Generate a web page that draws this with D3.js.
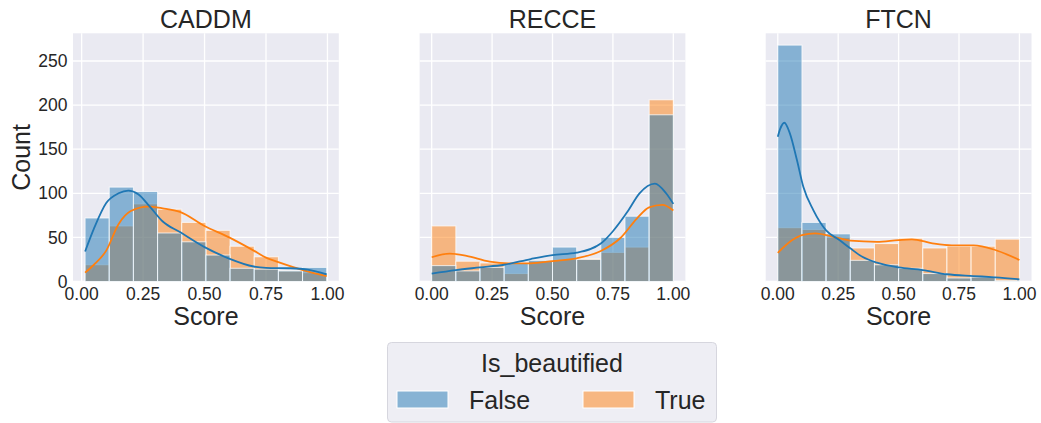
<!DOCTYPE html>
<html>
<head>
<meta charset="UTF-8">
<title>Score histograms</title>
<script src="https://d3js.org/d3.v7.min.js"></script>
<style>
    * { margin: 0; padding: 0; }
    body { background: #fff; }
    svg text { font-family: "Liberation Sans", Arial, sans-serif; fill: #262626; }
</style>
</head>
<body>
<svg id="main" width="1041" height="423"></svg>
<script>
// data
const panels = ["CADDM", "RECCE", "FTCN"];
const binRanges = [[0.014, 0.997], [0, 1], [0, 1]];
const falseCounts = [
    [72, 107, 102, 55, 45, 30, 15, 14, 12, 16],
    [18, 12, 16, 21, 24, 39, 25, 50, 74, 189],
    [268, 67, 54, 24, 19, 15, 9, 4, 5, 1]
];
const trueCounts = [
    [19, 63, 88, 82, 67, 58, 40, 28, 12, 10],
    [63, 23, 21, 9, 23, 25, 26, 33, 39, 206],
    [61, 59, 50, 38, 43, 49, 38, 40, 40, 48]
];
// kde curves, [score, count]
const falseKde = [
    [[0.014, 34], [0.05, 60], [0.1, 89], [0.15, 100], [0.19, 103], [0.23, 99], [0.28, 84], [0.33, 68], [0.4, 56], [0.5, 39], [0.6, 26], [0.7, 17], [0.75, 15.5], [0.85, 15], [0.92, 13.5], [0.997, 8]],
    [[0, 9], [0.1, 13], [0.2, 16], [0.3, 19], [0.41, 25.5], [0.5, 30], [0.6, 32.7], [0.7, 43], [0.75, 57], [0.81, 79], [0.86, 100], [0.924, 111], [0.97, 100], [1, 88]],
    [[0, 164], [0.01, 173], [0.027, 180], [0.05, 168], [0.079, 138], [0.106, 107], [0.147, 81], [0.2, 58], [0.255, 47], [0.3, 37.6], [0.35, 28], [0.41, 21.3], [0.5, 16], [0.6, 13], [0.7, 8.2], [0.81, 6.2], [0.9, 4.7], [1, 2.5]]
];
const trueKde = [
    [[0.014, 10], [0.05, 19], [0.1, 35], [0.15, 65], [0.2, 80], [0.27, 85], [0.33, 83], [0.4, 79], [0.5, 63], [0.6, 50], [0.7, 35], [0.75, 27], [0.8, 22], [0.9, 13], [0.997, 6]],
    [[0, 27.5], [0.075, 31.5], [0.144, 29], [0.24, 22.5], [0.32, 20.6], [0.41, 20.6], [0.5, 23.2], [0.6, 26.3], [0.7, 34.6], [0.78, 49], [0.85, 71.6], [0.9, 84], [0.955, 86.8], [1, 80.5]],
    [[0, 32.5], [0.06, 47], [0.1, 52.7], [0.155, 54.6], [0.24, 50], [0.3, 46.3], [0.41, 45], [0.5, 47], [0.555, 47.8], [0.64, 43.3], [0.72, 41], [0.81, 41], [0.9, 35.7], [1, 24.4]]
];
const xTicks = [0, 0.25, 0.5, 0.75, 1];
const yTicks = [0, 50, 100, 150, 200, 250];
const hueLabels = ["False", "True"];

const blue = "#1f77b4", orange = "#ff7f0e", bg = "#eaeaf2";

const svg = d3.select("#main");
const panelLeft = [73, 419.6, 765.7];
const panelW = 265.8;
const plotTop = 33.3, plotBottom = 281.5;

const yMax = d3.max([...falseCounts.flat(), ...trueCounts.flat()]) * 1.05;
const y = d3.scaleLinear().domain([0, yMax]).range([plotBottom, plotTop]);

panels.forEach((name, i) => {
    const [lo, hi] = binRanges[i];
    const pad = (hi - lo) * 0.05;
    const x = d3.scaleLinear().domain([lo - pad, hi + pad]).range([panelLeft[i], panelLeft[i] + panelW]);
    const g = svg.append("g");

    g.append("rect")
        .attr("x", panelLeft[i]).attr("y", plotTop)
        .attr("width", panelW).attr("height", plotBottom - plotTop)
        .attr("fill", bg);

    // grid
    g.selectAll(".vgrid").data(xTicks).enter().append("line")
        .attr("x1", d => x(d)).attr("x2", d => x(d))
        .attr("y1", plotTop).attr("y2", plotBottom)
        .attr("stroke", "#fff").attr("stroke-width", 1.3);
    g.selectAll(".hgrid").data(yTicks).enter().append("line")
        .attr("x1", panelLeft[i]).attr("x2", panelLeft[i] + panelW)
        .attr("y1", d => y(d)).attr("y2", d => y(d))
        .attr("stroke", "#fff").attr("stroke-width", 1.3);

    const edges = d3.range(11).map(k => lo + (hi - lo) * k / 10);

    // seaborn draws the second hue level first
    [[trueCounts[i], orange], [falseCounts[i], blue]].forEach(([counts, col]) => {
        g.selectAll(null).data(counts).enter().append("rect")
            .attr("x", (d, k) => x(edges[k]))
            .attr("width", (d, k) => x(edges[k + 1]) - x(edges[k]))
            .attr("y", d => y(d))
            .attr("height", d => y(0) - y(d))
            .attr("fill", col).attr("fill-opacity", 0.5)
            .attr("stroke", "#fff").attr("stroke-opacity", 0.75).attr("stroke-width", 1);
    });

    const line = d3.line().x(d => x(d[0])).y(d => y(d[1])).curve(d3.curveMonotoneX);
    [[trueKde[i], orange], [falseKde[i], blue]].forEach(([pts, col]) => {
        g.append("path").attr("d", line(pts))
            .attr("fill", "none").attr("stroke", col).attr("stroke-width", 1.8);
    });

    // x tick labels
    g.selectAll(".xt").data(xTicks).enter().append("text")
        .attr("x", d => x(d)).attr("y", 299.5)
        .attr("text-anchor", "middle").attr("font-size", 17.5)
        .text(d => d3.format(".2f")(d));

    g.append("text")
        .attr("x", panelLeft[i] + panelW / 2).attr("y", 325)
        .attr("text-anchor", "middle").attr("font-size", 25)
        .text("Score");

    g.append("text")
        .attr("x", panelLeft[i] + panelW / 2).attr("y", 28)
        .attr("text-anchor", "middle").attr("font-size", 25)
        .text(name);

    if (i === 0) {
        g.selectAll(".yt").data(yTicks).enter().append("text")
            .attr("x", 67.5).attr("y", d => y(d) + 6.2)
            .attr("text-anchor", "end").attr("font-size", 17.5)
            .text(d => d);
        g.append("text")
            .attr("transform", `translate(30,${(plotTop + plotBottom) / 2}) rotate(-90)`)
            .attr("text-anchor", "middle").attr("font-size", 25)
            .text("Count");
    }
});

// legend
const leg = svg.append("g");
leg.append("rect")
    .attr("x", 387.5).attr("y", 342.5).attr("width", 329).attr("height", 79.5)
    .attr("rx", 4).attr("fill", "#eeeef4").attr("stroke", "#d6d6de").attr("stroke-width", 1);
leg.append("text")
    .attr("x", 552).attr("y", 371.5)
    .attr("text-anchor", "middle").attr("font-size", 25)
    .text("Is_beautified");
const legX = [397, 583];
hueLabels.forEach((lab, k) => {
    leg.append("rect")
        .attr("x", legX[k]).attr("y", 391).attr("width", 51).attr("height", 17)
        .attr("fill", k === 0 ? blue : orange).attr("fill-opacity", 0.5)
        .attr("stroke", "#fff").attr("stroke-width", 1);
    leg.append("text")
        .attr("x", legX[k] + 72).attr("y", 408.5)
        .attr("font-size", 25)
        .text(lab);
});
</script>
</body>
</html>
